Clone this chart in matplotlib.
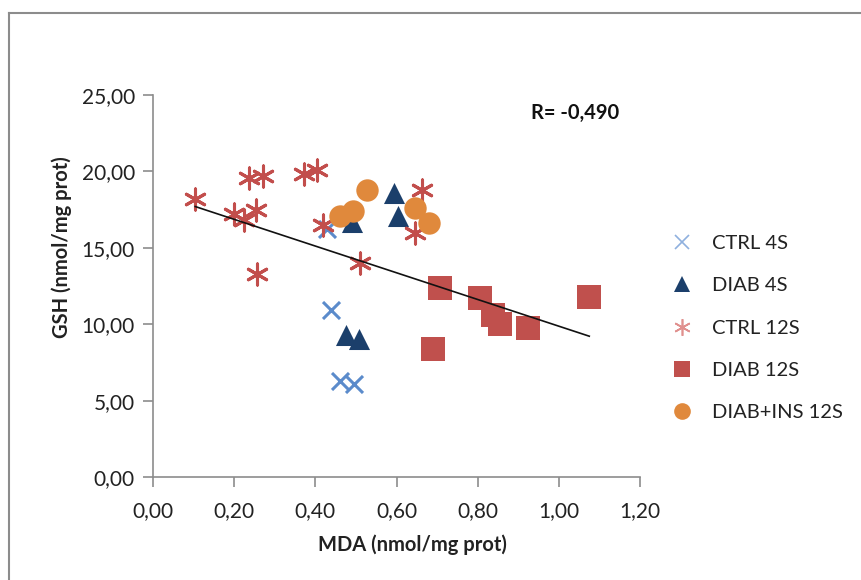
import matplotlib
matplotlib.use("Agg")
import matplotlib.pyplot as plt
import numpy as np
from matplotlib.ticker import FuncFormatter
from matplotlib.lines import Line2D

plt.rcParams['font.family'] = ['Lato', 'DejaVu Sans']

# Data
ctrl4_x = [0.429, 0.439, 0.461, 0.496]
ctrl4_y = [16.2, 10.9, 6.3, 6.1]

diab4_x = [0.491, 0.594, 0.604, 0.476, 0.508]
diab4_y = [16.7, 18.6, 17.1, 9.3, 9.0]

ctrl12_x = [0.104, 0.237, 0.271, 0.200, 0.224, 0.254, 0.256, 0.372, 0.404, 0.419, 0.510, 0.663, 0.646]
ctrl12_y = [18.2, 19.6, 19.7, 17.2, 16.8, 17.5, 13.3, 19.8, 20.1, 16.5, 14.0, 18.8, 16.0]

diab12_x = [0.806, 0.838, 0.855, 0.925, 1.075, 0.708, 0.690]
diab12_y = [11.7, 10.6, 10.0, 9.75, 11.8, 12.4, 8.4]

dins12_x = [0.527, 0.493, 0.461, 0.646, 0.681]
dins12_y = [18.8, 17.4, 17.1, 17.6, 16.6]

# trend line
trend_slope = -8.74
trend_intercept = 18.61

labels = ["CTRL 4S", "DIAB 4S", "CTRL 12S", "DIAB 12S", "DIAB+INS 12S"]
r_text = "R= -0,490"
x_ticks = [0.0, 0.2, 0.4, 0.6, 0.8, 1.0, 1.2]
y_ticks = [0, 5, 10, 15, 20, 25]

W, H = 861, 580
fig = plt.figure(figsize=(W / 100, H / 100), dpi=100)
ax = fig.add_axes([153 / W, 1 - 477 / H, (640 - 153) / W, (477 - 95) / H])

c_ctrl4 = "#5B8BCB"
c_diab4 = "#1B3F6B"
c_ctrl12 = "#C24E4C"
c_diab12 = "#C0504D"
c_dins = "#E0893C"

ax.scatter(ctrl4_x, ctrl4_y, marker='x', s=150, c=c_ctrl4, linewidths=2.2, zorder=3)
ax.scatter(diab4_x, diab4_y, marker='^', s=230, c=c_diab4, linewidths=0, zorder=3)
ax.scatter(ctrl12_x, ctrl12_y, marker=(6, 2, 0), s=230, c=c_ctrl12, linewidths=2.2, zorder=3)
ax.scatter(diab12_x, diab12_y, marker='s', s=300, c=c_diab12, linewidths=0, zorder=3)
ax.scatter(dins12_x, dins12_y, marker='o', s=260, c=c_dins, linewidths=0, zorder=3)

all_x = np.array(ctrl4_x + diab4_x + ctrl12_x + diab12_x + dins12_x)
xs = np.array([all_x.min(), all_x.max()])
ax.plot(xs, trend_slope * xs + trend_intercept, color='#111111', lw=1.2, zorder=4)

ax.set_xlim(0, 1.2)
ax.set_ylim(0, 25)
ax.set_xticks(x_ticks)
ax.set_yticks(y_ticks)
fmt = FuncFormatter(lambda v, p: f"{v:.2f}".replace('.', ','))
ax.xaxis.set_major_formatter(fmt)
ax.yaxis.set_major_formatter(fmt)
for s in ['top', 'right']:
    ax.spines[s].set_visible(False)
for s in ['left', 'bottom']:
    ax.spines[s].set_color('#8C8C8C')
    ax.spines[s].set_linewidth(1.2)
ax.tick_params(axis='both', direction='out', length=7, width=1.2, color='#8C8C8C',
               labelsize=15, labelcolor='#222222', pad=6)
ax.tick_params(axis='x', pad=10)

ax.set_xlabel("MDA (nmol/mg prot)", fontsize=14.5, fontweight='bold', color='#222222',
              va='center', ha='center')
ax.set_ylabel("GSH (nmol/mg prot)", fontsize=14.5, fontweight='bold', color='#222222',
              va='center', ha='center')
ax.xaxis.set_label_coords((412 - 153) / 487, -(545 - 477) / 382)
ax.yaxis.set_label_coords((62 - 153) / 487, (477 - 247) / 382)

ax.text(575 / W, 1 - 113 / H, r_text, transform=fig.transFigure, fontsize=14.5,
        fontweight='bold', ha='center', va='center', color='#111111')

handles = [
    Line2D([], [], ls='none', marker='x', ms=10, mew=1.2, color='#8FB0DE'),
    Line2D([], [], ls='none', marker='^', ms=12, mew=0, color=c_diab4),
    Line2D([], [], ls='none', marker=(6, 2, 0), ms=12, mew=1.2, color='#E0908E'),
    Line2D([], [], ls='none', marker='s', ms=11, mew=0, color=c_diab12),
    Line2D([], [], ls='none', marker='o', ms=12, mew=0, color=c_dins),
]
leg = fig.legend(handles, labels, loc='upper left', bbox_to_anchor=(662 / W, 1 - 225 / H),
                 frameon=False, fontsize=14.5, labelspacing=1.25, handlelength=1.0,
                 handletextpad=1.0, borderpad=0)
for t in leg.get_texts():
    t.set_color('#222222')

# outer chart border (left and top visible)
fig.add_artist(Line2D([9 / W, 9 / W], [0, 1 - 13 / H], transform=fig.transFigure,
                      color='#8C8C8C', lw=1.5))
fig.add_artist(Line2D([9 / W, 1], [1 - 13 / H, 1 - 13 / H], transform=fig.transFigure,
                      color='#8C8C8C', lw=1.5))

fig.savefig("out.png", dpi=100)
